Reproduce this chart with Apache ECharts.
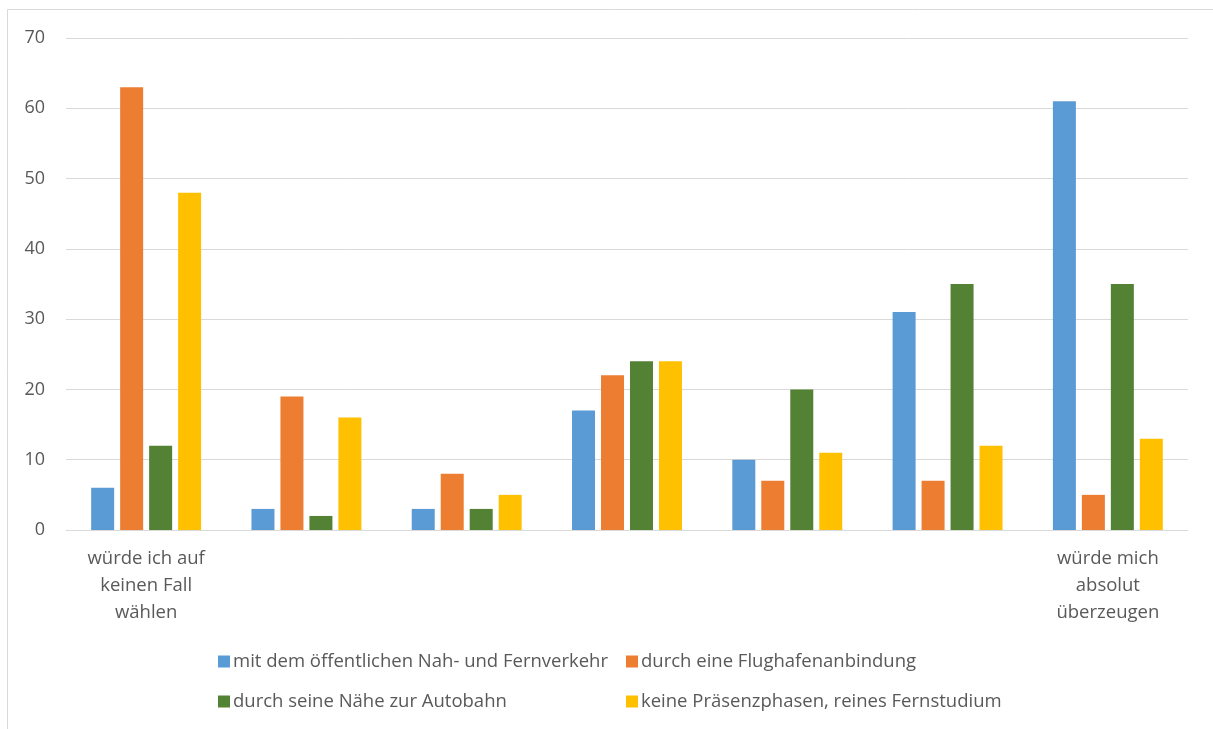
<!DOCTYPE html>
<html>
<head>
<meta charset="utf-8">
<script src="https://cdn.jsdelivr.net/npm/echarts@6/dist/echarts.min.js"></script>
<style>
  html, body { margin: 0; padding: 0; background: #fff; }
  #chart { width: 1213px; height: 729px; }
</style>
</head>
<body>
<div id="chart"></div>
<script>
// Rating scale 1..7, only the two ends carry a label
const categories = ['1', '2', '3', '4', '5', '6', '7'];
const categoryLabels = [
  'würde ich auf\nkeinen Fall\nwählen', '', '', '', '', '',
  'würde mich\nabsolut\nüberzeugen'
];

const seriesNames = [
  'mit dem öffentlichen Nah- und Fernverkehr',
  'durch eine Flughafenanbindung',
  'durch seine Nähe zur Autobahn',
  'keine Präsenzphasen, reines Fernstudium'
];
const oepnv       = [6, 3, 3, 17, 10, 31, 61];
const flughafen   = [63, 19, 8, 22, 7, 7, 5];
const autobahn    = [12, 2, 3, 24, 20, 35, 35];
const fernstudium = [48, 16, 5, 24, 11, 12, 13];

const yTicks = [0, 10, 20, 30, 40, 50, 60, 70];

const colors = ['#5B9BD5', '#ED7D31', '#548235', '#FFC000'];
const FONT = '"Open Sans", "Noto Sans", sans-serif';
const TEXT = '#595959';

const chart = echarts.init(document.getElementById('chart'), null, { renderer: 'canvas' });

// legend laid out as a 2x2 grid
const legendPos = [
  { left: 218, top: 652 },
  { left: 626, top: 652 },
  { left: 218, top: 692 },
  { left: 626, top: 692 }
];

chart.setOption({
  animation: false,
  backgroundColor: '#ffffff',
  color: colors,
  textStyle: { fontFamily: FONT },
  graphic: [{
    type: 'rect',
    shape: { x: 7.5, y: 9.5, width: 1300, height: 800 },
    style: { fill: 'none', stroke: '#d9d9d9', lineWidth: 1 },
    silent: true
  }],
  legend: seriesNames.map((n, i) => ({
    data: [n],
    left: legendPos[i].left,
    top: legendPos[i].top,
    icon: 'rect',
    itemWidth: 12,
    itemHeight: 12,
    padding: 0,
    textStyle: { color: TEXT, fontSize: 18.5, fontFamily: FONT, padding: [0, 0, 0, -2] },
    selectedMode: false
  })),
  grid: { left: 66, right: 25, top: 38, height: 492, containLabel: false },
  xAxis: {
    type: 'category',
    data: categories,
    axisLine: { show: true, lineStyle: { color: '#d9d9d9', width: 1 } },
    axisTick: { show: false },
    axisLabel: {
      interval: 0,
      margin: 15,
      color: TEXT,
      fontSize: 18.5,
      lineHeight: 27,
      fontFamily: FONT,
      formatter: (v, i) => categoryLabels[i]
    }
  },
  yAxis: {
    type: 'value',
    min: yTicks[0],
    max: yTicks[yTicks.length - 1],
    interval: 10,
    axisLine: { show: false },
    axisTick: { show: false },
    axisLabel: { color: TEXT, fontSize: 18, margin: 21, fontFamily: FONT },
    splitLine: { lineStyle: { color: '#d9d9d9', width: 1 } }
  },
  series: [oepnv, flughafen, autobahn, fernstudium].map((d, i) => ({
    name: seriesNames[i],
    type: 'bar',
    data: d,
    barWidth: 23,
    barGap: '26%',
    itemStyle: { color: colors[i] }
  }))
});
</script>
</body>
</html>
